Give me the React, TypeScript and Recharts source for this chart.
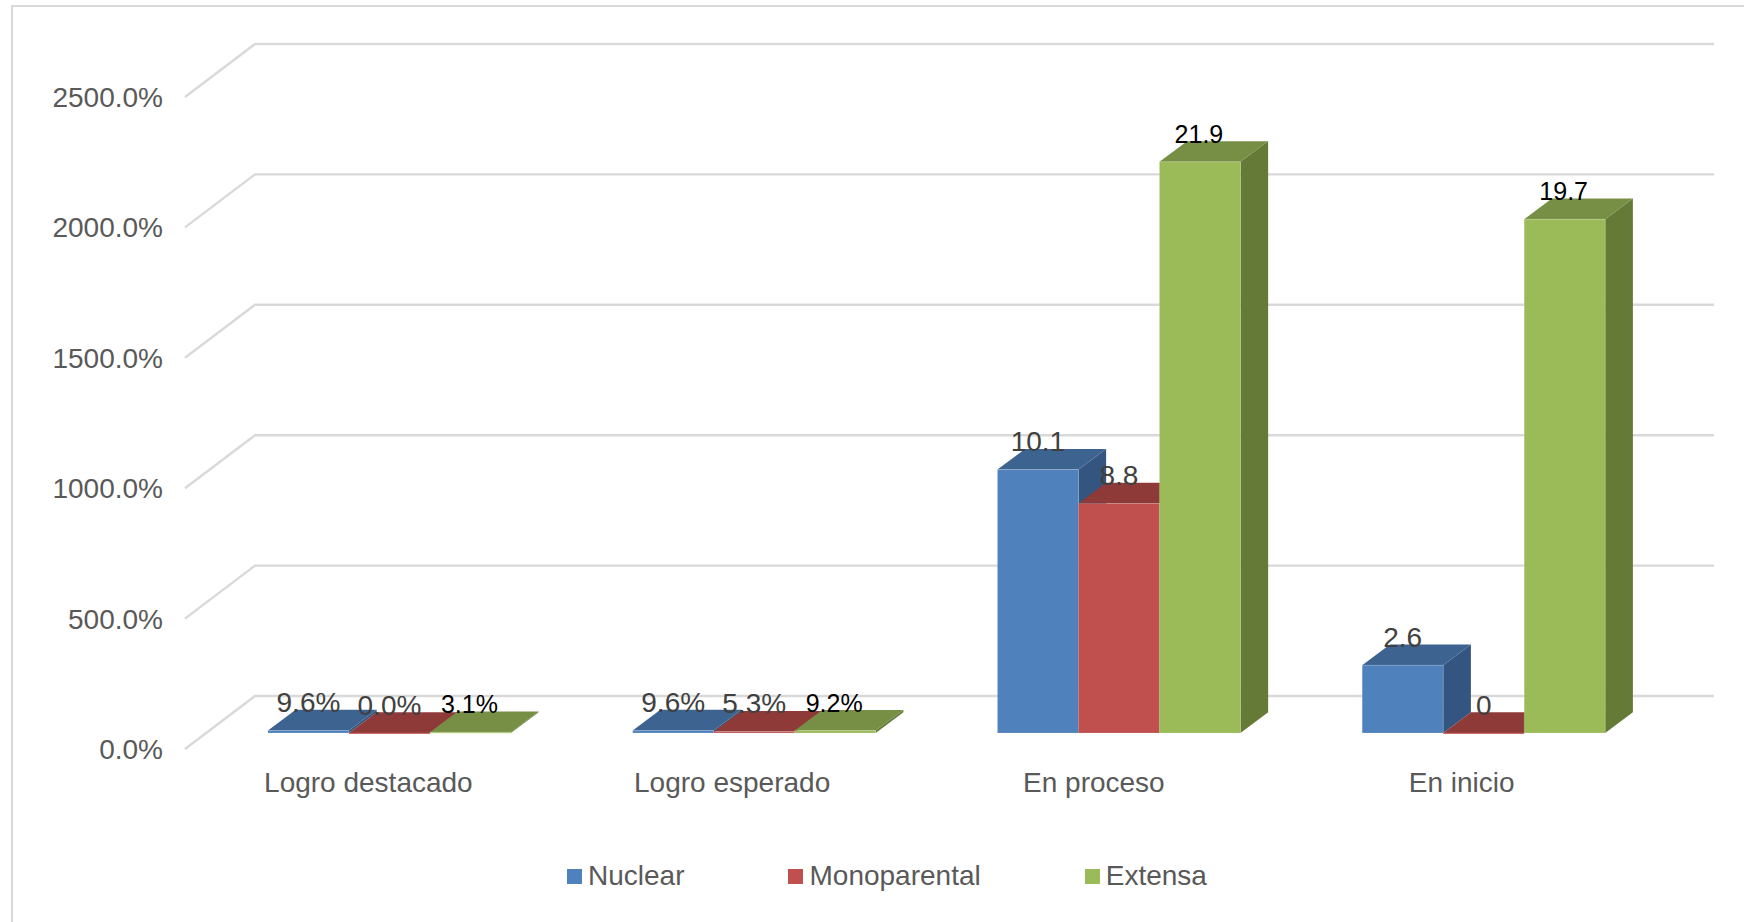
import React from 'react';
import { BarChart, Bar, XAxis, YAxis, CartesianGrid, Legend, LabelList } from 'recharts';

const FONT = '"Liberation Sans", Arial, sans-serif';

const categories = ['Logro destacado', 'Logro esperado', 'En proceso', 'En inicio'];
const yTicks = [0, 500, 1000, 1500, 2000, 2500];

// values are in percent units, the same as the axis
const nuclear = [9.6, 9.6, 1010, 260];
const monoparental = [0, 5.3, 880, 0];
const extensa = [3.1, 9.2, 2190, 1970];

const nuclearLabels = ['9.6%', '9.6%', '10.1', '2.6'];
const monoparentalLabels = ['0.0%', '5.3%', '8.8', '0'];
const extensaLabels = ['3.1%', '9.2%', '21.9', '19.7'];

const data = categories.map((name, i) => ({
  name,
  nuclear: nuclear[i],
  monoparental: monoparental[i],
  extensa: extensa[i],
  nuclearLabel: nuclearLabels[i],
  monoparentalLabel: monoparentalLabels[i],
  extensaLabel: extensaLabels[i],
}));

const DX = 27.7;
const DY = 20.7;

function box(front: string, top: string, side: string) {
  return (props: any) => {
    const { x, y, width: w, height: h } = props;
    const edge = 'rgba(255,255,255,0.15)';
    return (
      <g>
        <polygon points={`${x + w},${y} ${x + w + DX},${y - DY} ${x + w + DX},${y + h - DY} ${x + w},${y + h}`} fill={side} />
        <polygon points={`${x},${y} ${x + DX},${y - DY} ${x + w + DX},${y - DY} ${x + w},${y}`} fill={top} />
        <rect x={x} y={y} width={w} height={Math.max(h, 1)} fill={front} stroke={edge} strokeWidth={1} />
      </g>
    );
  };
}

// Wall lines of the 3D box: a short diagonal on the side wall, then the back wall
function gridLine(props: any) {
  const { x1, x2, y1 } = props;
  return (
    <polyline
      key={`grid-${y1}`}
      points={`${x1 - 22},${y1 + 16} ${x1 + 48},${y1 - 37} ${x2 + 48},${y1 - 37}`}
      fill="none"
      stroke="#d9d9d9"
      strokeWidth={2.4}
    />
  );
}

function yTick(props: any) {
  const { y, payload } = props;
  return (
    <text x={163} y={y + 16.5} textAnchor="end" dominantBaseline="central" fontSize={28} fontFamily={FONT} fill="#595959">
      {`${payload.value.toFixed(1)}%`}
    </text>
  );
}

// the reference labels do not sit quite evenly under their groups
const xTickNudge = [-21, -22, -25, -22];

function xTick(props: any) {
  const { x, payload, index } = props;
  return (
    <text x={x + xTickNudge[index]} y={782} textAnchor="middle" dominantBaseline="central" fontSize={28} fontFamily={FONT} fill="#595959">
      {payload.value}
    </text>
  );
}

function barLabel(color: string, size: number, shift: number) {
  return (props: any) => {
    const { x, y, width, value } = props;
    return (
      <text x={x + width / 2 + shift} y={y - 28} textAnchor="middle" dominantBaseline="central" fontSize={size} fontFamily={FONT} fill={color}>
        {value}
      </text>
    );
  };
}

function legendContent(props: any) {
  return (
    <div style={{ display: 'flex', gap: 104, fontFamily: FONT, fontSize: 28, color: '#595959' }}>
      {props.payload.map((item: any) => (
        <div key={item.value} style={{ display: 'flex', alignItems: 'center', gap: 6 }}>
          <span style={{ width: 15, height: 15, background: item.color, display: 'inline-block' }} />
          <span>{item.value}</span>
        </div>
      ))}
    </div>
  );
}

export default function App() {
  return (
    <div style={{ position: 'absolute', left: 0, top: 0, width: 1744, height: 922, background: '#fff', overflow: 'hidden' }}>
      <div style={{ position: 'absolute', left: 11, top: 5, width: 1733, height: 917, borderTop: '2px solid #d9d9d9', borderLeft: '2px solid #d9d9d9', boxSizing: 'border-box' }} />
      <BarChart
        width={1744}
        height={922}
        data={data}
        margin={{ top: 81, right: 78, bottom: 0, left: 0 }}
        barCategoryGap="16.71%"
        barGap={0}
        style={{ position: 'absolute', left: 0, top: 0 }}
      >
        <CartesianGrid vertical={false} horizontal={gridLine} />
        <XAxis dataKey="name" height={155} axisLine={false} tickLine={false} tick={xTick} interval={0} />
        <YAxis width={207} domain={[0, 2500]} ticks={yTicks} axisLine={false} tickLine={false} tick={yTick} />
        <Legend
          content={legendContent}
          itemSorter={null}
          wrapperStyle={{ position: 'absolute', left: 567, top: 860, width: 800, height: 34 }}
        />
        <Bar dataKey="nuclear" name="Nuclear" fill="#4f81bd" isAnimationActive={false} shape={box('#4f81bd', '#3d6391', '#33557f')}>
          <LabelList dataKey="nuclearLabel" content={barLabel('#404040', 28, 0)} />
        </Bar>
        <Bar dataKey="monoparental" name="Monoparental" fill="#c0504d" isAnimationActive={false} shape={box('#c0504d', '#8e3a38', '#8e3a38')}>
          <LabelList dataKey="monoparentalLabel" content={barLabel('#404040', 28, 0)} />
        </Bar>
        <Bar dataKey="extensa" name="Extensa" fill="#9bbb59" isAnimationActive={false} shape={box('#9bbb59', '#778f45', '#667a37')}>
          <LabelList dataKey="extensaLabel" content={barLabel('#000000', 25, -1)} />
        </Bar>
      </BarChart>
    </div>
  );
}
